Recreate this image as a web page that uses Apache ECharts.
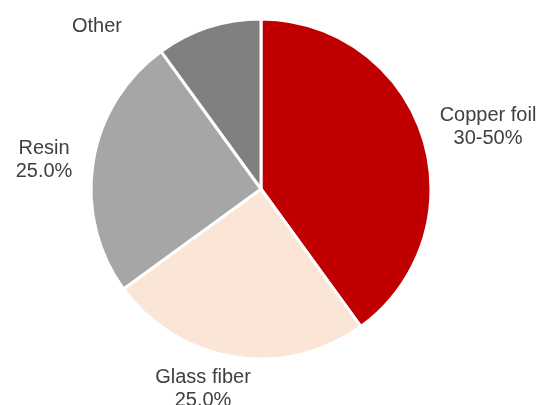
<!DOCTYPE html>
<html><head><meta charset="utf-8">
<script src="https://cdn.jsdelivr.net/npm/echarts@6/dist/echarts.min.js"></script>
<style>html,body{margin:0;padding:0;background:#fff}#c{width:543px;height:405px}</style>
</head><body><div id="c"></div>
<script>
const categories = ['Copper foil', 'Glass fiber', 'Resin', 'Other'];
const values = [40, 25, 25, 10];
const labelTexts = ['Copper foil\n30-50%', 'Glass fiber\n25.0%', 'Resin\n25.0%', 'Other'];
const colors = ['#C00000', '#FBE5D6', '#A6A6A6', '#808080'];
// label anchor (centre of text block), in pixels
const labelAnchors = [[488, 127], [203, 389], [44, 160], [97, 26]];

const chart = echarts.init(document.getElementById('c'));
chart.setOption({
  animation: false,
  series: [{
    type: 'pie',
    center: [261, 189],
    radius: [0, 170],
    startAngle: 90,
    clockwise: true,
    avoidLabelOverlap: false,
    itemStyle: { borderColor: '#fff', borderWidth: 3 },
    label: {
      show: true,
      position: 'outside',
      fontFamily: 'Liberation Sans, Arial, sans-serif',
      fontSize: 20,
      lineHeight: 23,
      color: '#404040',
      align: 'center',
      formatter: p => labelTexts[p.dataIndex]
    },
    labelLine: { show: false },
    labelLayout: p => ({
      x: labelAnchors[p.dataIndex][0],
      y: labelAnchors[p.dataIndex][1],
      align: 'center',
      verticalAlign: 'middle'
    }),
    data: categories.map((c, i) => ({ name: c, value: values[i], itemStyle: { color: colors[i] } }))
  }]
});
</script></body></html>
